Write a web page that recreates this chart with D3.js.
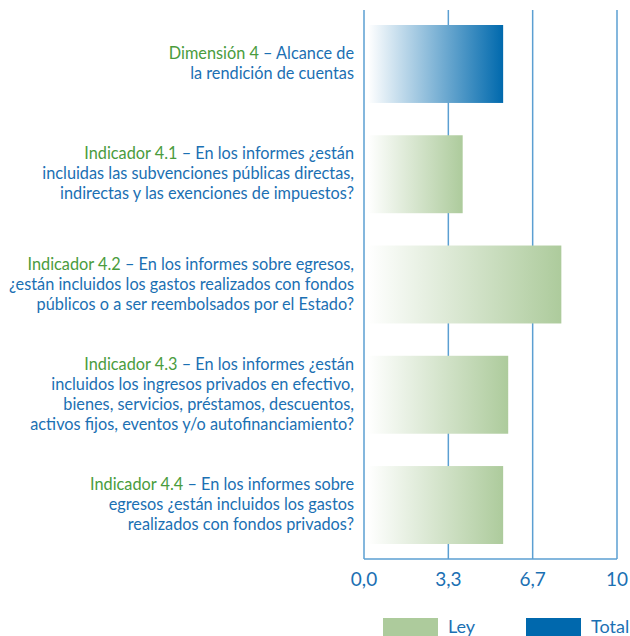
<!DOCTYPE html>
<html>
<head>
<meta charset="utf-8">
<script src="https://cdn.jsdelivr.net/npm/d3@7"></script>
<style>
  body { margin: 0; background: #fff; }
  svg { display: block; font-family: Lato, "Open Sans", sans-serif; }
</style>
</head>
<body>
<svg id="chart"></svg>
<script>
var categories = ["dim4", "ind41", "ind42", "ind43", "ind44"];
var values = [5.5, 3.9, 7.8, 5.7, 5.5];
var series = ["total", "ley", "ley", "ley", "ley"];
var heads = ["Dimensión 4", "Indicador 4.1", "Indicador 4.2", "Indicador 4.3", "Indicador 4.4"];
var labelLines = [
  ["Alcance de", "la rendición de cuentas"],
  ["En los informes ¿están", "incluidas las subvenciones públicas directas,", "indirectas y las exenciones de impuestos?"],
  ["En los informes sobre egresos,", "¿están incluidos los gastos realizados con fondos", "públicos o a ser reembolsados por el Estado?"],
  ["En los informes ¿están", "incluidos los ingresos privados en efectivo,", "bienes, servicios, préstamos, descuentos,", "activos fijos, eventos y/o autofinanciamiento?"],
  ["En los informes sobre", "egresos ¿están incluidos los gastos", "realizados con fondos privados?"]
];
var tickValues = [0, 10 / 3, 20 / 3, 10];
var tickLabels = ["0,0", "3,3", "6,7", "10"];
var legendKeys = ["ley", "total"];
var legendLabels = ["Ley", "Total"];

var width = 630, height = 636;
var green = "#4a9c3d", blue = "#1b70b3";
var gridColor = "#5b9fd2";

var x = d3.scaleLinear().domain([0, 10]).range([364, 617]);
var y = d3.scaleBand().domain(categories).range([25, 544]).paddingInner(0.293).paddingOuter(0);

var svg = d3.select("#chart")
  .attr("width", width)
  .attr("height", height);

var defs = svg.append("defs");
var grads = {total: ["#ffffff", "#0069ad"], ley: ["#ffffff", "#adcb9c"]};
Object.keys(grads).forEach(function(k) {
  var g = defs.append("linearGradient").attr("id", "grad-" + k)
    .attr("x1", "0%").attr("x2", "100%").attr("y1", "0%").attr("y2", "0%");
  g.append("stop").attr("offset", "0%").attr("stop-color", grads[k][0]);
  g.append("stop").attr("offset", "100%").attr("stop-color", grads[k][1]);
});

// frame: vertical grid lines + bottom line
var gridBottom = 559;
svg.selectAll(".grid")
  .data(tickValues)
  .enter()
  .append("line")
  .attr("class", "grid")
  .attr("x1", function(d) { return x(d); })
  .attr("x2", function(d) { return x(d); })
  .attr("y1", 10)
  .attr("y2", gridBottom)
  .attr("stroke", gridColor)
  .attr("stroke-width", 1.5);

svg.append("line")
  .attr("x1", x(0))
  .attr("x2", x(10))
  .attr("y1", gridBottom)
  .attr("y2", gridBottom)
  .attr("stroke", gridColor)
  .attr("stroke-width", 1.5);

// bars
svg.selectAll(".bar")
  .data(categories)
  .enter()
  .append("rect")
  .attr("class", "bar")
  .attr("x", x(0) + 4)
  .attr("y", function(d) { return y(d); })
  .attr("width", function(d, i) { return x(values[i]) - x(0) - 4; })
  .attr("height", y.bandwidth())
  .attr("fill", function(d, i) { return "url(#grad-" + series[i] + ")"; });

// category labels
var lineH = 20;
categories.forEach(function(c, i) {
  var lines = labelLines[i];
  var cy = y(c) + y.bandwidth() / 2;
  var t = svg.append("text")
    .attr("text-anchor", "end")
    .attr("font-size", 16.3)
    .attr("fill", blue);
  lines.forEach(function(l, j) {
    var ty = cy + (j - (lines.length - 1) / 2) * lineH + 5;
    var sp = t.append("tspan").attr("x", 354).attr("y", ty);
    if (j === 0) {
      sp.append("tspan").attr("fill", green).text(heads[i]);
      sp.append("tspan").text(" – " + l);
    } else {
      sp.text(l);
    }
  });
});

// tick labels
svg.selectAll(".tick-label")
  .data(tickValues)
  .enter()
  .append("text")
  .attr("class", "tick-label")
  .attr("x", function(d) { return x(d); })
  .attr("y", 586)
  .attr("text-anchor", "middle")
  .attr("font-size", 19)
  .attr("fill", blue)
  .text(function(d, i) { return tickLabels[i]; });

// legend
var legendX = [383, 526];
var legendFill = {ley: "#adcb9c", total: "#0068ad"};
legendKeys.forEach(function(k, i) {
  svg.append("rect")
    .attr("x", legendX[i])
    .attr("y", 618)
    .attr("width", 55)
    .attr("height", 22)
    .attr("fill", legendFill[k]);
  svg.append("text")
    .attr("x", legendX[i] + 65)
    .attr("y", 633)
    .attr("font-size", 18)
    .attr("fill", blue)
    .text(legendLabels[i]);
});
</script>
</body>
</html>
